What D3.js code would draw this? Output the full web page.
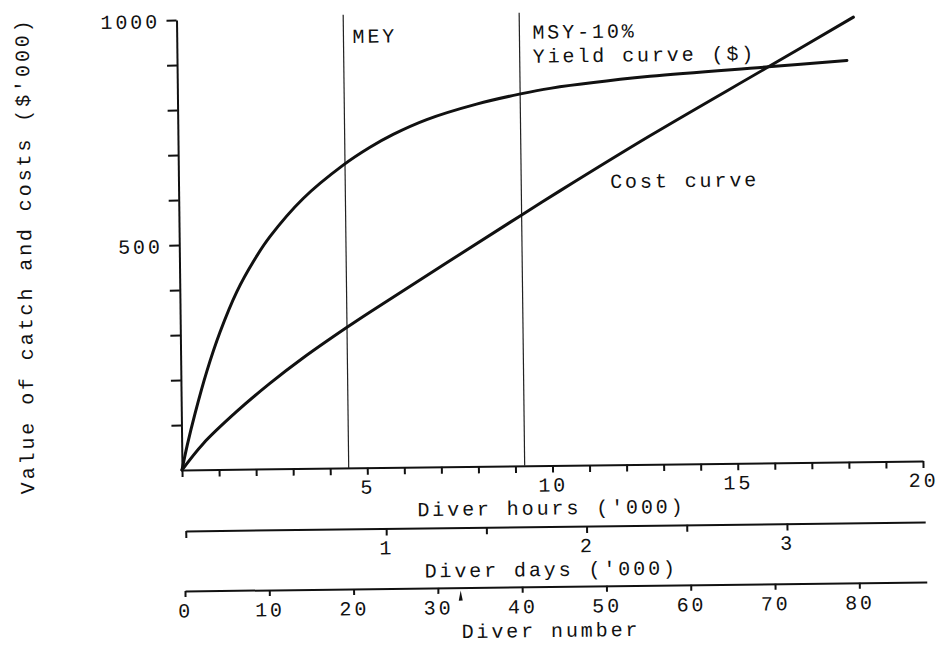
<!DOCTYPE html>
<html>
<head>
<meta charset="utf-8">
<script src="https://cdn.jsdelivr.net/npm/d3@7"></script>
<style>
  body { margin: 0; background: #fff; }
  svg text {
    font-family: "Courier New", "Liberation Mono", monospace;
    font-size: 20px;
    letter-spacing: 2.9px;
    fill: #111;
  }
</style>
</head>
<body>
<svg id="chart"></svg>
<script>
// Yield curve ($) - diver hours ('000) vs value ($'000)
const yieldHours = [0, 0.15, 0.37, 0.70, 1.07, 1.54, 2.0, 2.45, 3.36, 4.45, 5.18, 5.81, 6.72, 8.07, 9.23, 10.06, 12.76, 15.96, 18.08];
const yieldValues = [0, 55, 125, 218, 305, 395, 462, 516, 600, 673, 712, 740, 772, 805, 826, 838, 862, 880, 892];

// Cost curve
const costHours = [0, 0.58, 1.49, 2.40, 3.31, 4.49, 5.13, 9.22, 10.29, 12.74, 15.96, 18.27];
const costValues = [0, 58, 128, 190, 246, 312, 346, 556, 610, 730, 880, 988];

// reference effort levels (diver hours '000)
const refNames = ['MEY', 'MSY-10%'];
const refHours = [4.5, 9.25];

// axis ticks
const hourTicks = d3.range(0, 21, 1);
const hourLabels = [5, 10, 15, 20];
const valueTicks = d3.range(100, 1001, 100);
const valueLabels = [500, 1000];
const dayTicks = [0, 1, 1.5, 2, 2.5, 3];
const dayLabels = [1, 2, 3];
const numberTicks = d3.range(0, 81, 10);
const numberMark = 32.7;

class EffortChart {
    constructor(_config) {
        this.config = {
            parentElement: _config.parentElement,
            containerWidth: 942,
            containerHeight: 646,
            origin: { x: 182, y: 470 },
            skew: -0.7   // the scanned page sits slightly rotated
        };
        this.initVis();
    }

    initVis() {
        let vis = this;
        const o = vis.config.origin;

        vis.svg = d3.select(vis.config.parentElement)
            .attr('width', vis.config.containerWidth)
            .attr('height', vis.config.containerHeight);

        vis.chart = vis.svg.append('g')
            .attr('transform', `rotate(${vis.config.skew},${o.x},${o.y})`);

        vis.x = d3.scaleLinear().domain([0, 20]).range([o.x, 923]);
        vis.y = d3.scaleLinear().domain([0, 1000]).range([o.y, 20]);
        vis.xDays = d3.scaleLinear().domain([0, 3.69]).range([185, 924.5]);
        vis.xNumber = d3.scaleLinear().domain([0, 88]).range([183.5, 925.3]);

        vis.line = d3.line()
            .x(d => vis.x(d[0]))
            .y(d => vis.y(d[1]))
            .curve(d3.curveCatmullRom.alpha(0.5));

        vis.drawAxes();
        vis.updateVis();
    }

    styleAxis(g, labelY) {
        g.select('.domain').attr('stroke', '#111').attr('stroke-width', 2);
        g.selectAll('.tick line').attr('stroke', '#111').attr('stroke-width', 2);
        if (labelY !== undefined) {
            g.selectAll('.tick text').attr('y', labelY).attr('dy', null);
        }
    }

    drawAxes() {
        let vis = this;

        // diver hours
        const hoursAxis = vis.chart.append('g')
            .attr('transform', `translate(0,${vis.y(0)})`)
            .call(d3.axisBottom(vis.x)
                .tickValues(hourTicks)
                .tickSize(7)
                .tickSizeOuter(0)
                .tickFormat(d => hourLabels.includes(d) ? d : ''))
            .call(g => vis.styleAxis(g, 26));
        hoursAxis.append('text')
            .attr('x', 551).attr('y', 49)
            .attr('text-anchor', 'middle')
            .text("Diver hours ('000)");

        // value
        vis.chart.append('g')
            .attr('transform', `translate(${vis.x(0)},0)`)
            .call(d3.axisLeft(vis.y)
                .tickValues(valueTicks)
                .tickSize(10)
                .tickSizeOuter(0)
                .tickFormat(d => valueLabels.includes(d) ? d : ''))
            .call(g => vis.styleAxis(g))
            .call(g => g.selectAll('.tick text').attr('x', -16.5).attr('dy', '0.38em'));

        vis.chart.append('text')
            .attr('transform', 'translate(34,254) rotate(-90)')
            .attr('text-anchor', 'middle')
            .text("Value of catch and costs ($'000)");

        // diver days
        const daysAxis = vis.chart.append('g')
            .attr('transform', 'translate(0,531)')
            .call(d3.axisBottom(vis.xDays)
                .tickValues(dayTicks)
                .tickSize(7)
                .tickSizeOuter(0)
                .tickFormat(d => dayLabels.includes(d) ? d : ''))
            .call(g => vis.styleAxis(g, 26));
        daysAxis.append('text')
            .attr('x', 550).attr('y', 49.5)
            .attr('text-anchor', 'middle')
            .text("Diver days ('000)");

        // diver number
        const numberAxis = vis.chart.append('g')
            .attr('transform', 'translate(0,591)')
            .call(d3.axisBottom(vis.xNumber)
                .tickValues(numberTicks)
                .tickSize(6)
                .tickSizeOuter(0))
            .call(g => vis.styleAxis(g, 26.5));
        numberAxis.append('text')
            .attr('x', 549).attr('y', 50.5)
            .attr('text-anchor', 'middle')
            .text('Diver number');

        // small pen mark under the number scale
        const mx = vis.xNumber(numberMark);
        numberAxis.append('path')
            .attr('d', `M${mx},3L${mx + 2},13L${mx - 2},13Z`)
            .attr('fill', '#111');
    }

    updateVis() {
        let vis = this;

        // reference effort lines
        vis.chart.selectAll('.ref-line')
            .data(refHours)
            .join('line')
            .attr('class', 'ref-line')
            .attr('x1', d => vis.x(d)).attr('x2', d => vis.x(d))
            .attr('y1', vis.y(0)).attr('y2', vis.y(1007))
            .attr('stroke', '#222')
            .attr('stroke-width', 1.2);

        const yieldData = yieldHours.map((h, i) => [h, yieldValues[i]]);
        const costData = costHours.map((h, i) => [h, costValues[i]]);

        vis.chart.selectAll('.curve')
            .data([yieldData, costData])
            .join('path')
            .attr('class', 'curve')
            .attr('d', vis.line)
            .attr('fill', 'none')
            .attr('stroke', '#111')
            .attr('stroke-width', 3)
            .attr('stroke-linecap', 'round');

        // labels
        vis.chart.append('text')
            .attr('x', vis.x(refHours[0]) + 9).attr('y', vis.y(1000) + 25)
            .text(refNames[0]);
        vis.chart.append('text')
            .attr('x', vis.x(refHours[1]) + 13).attr('y', vis.y(1000) + 23)
            .text(refNames[1]);
        vis.chart.append('text')
            .attr('x', vis.x(refHours[1]) + 13).attr('y', vis.y(1000) + 47)
            .text('Yield curve ($)');
        vis.chart.append('text')
            .attr('x', vis.x(11.65)).attr('y', vis.y(615))
            .text('Cost curve');
    }
}

new EffortChart({ parentElement: '#chart' });
</script>
</body>
</html>
